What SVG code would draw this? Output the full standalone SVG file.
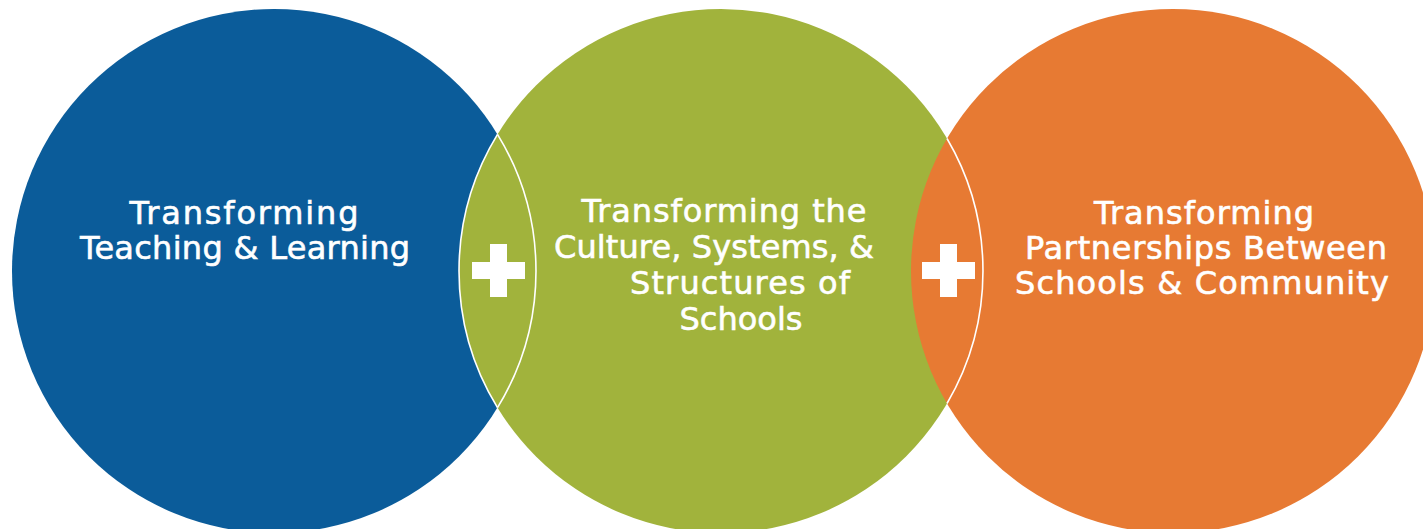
<svg xmlns="http://www.w3.org/2000/svg" width="1423" height="529" viewBox="0 0 1423 529">
<style>
.lbl{font-family:"DejaVu Sans","Liberation Sans",sans-serif;font-size:32px;fill:#ffffff;stroke:#ffffff;stroke-width:0.6;text-anchor:middle}
.arc{fill:none;stroke:#ffffff;stroke-width:1.6}
.plus{fill:#ffffff}
</style>
<rect width="1423" height="529" fill="#ffffff"/>
<g id="node-teaching">
<circle cx="274" cy="271" r="262" fill="#0b5c9a"/>
</g>
<g id="node-culture">
<circle cx="721" cy="271" r="262" fill="#a1b33c"/>
</g>
<g id="node-partnerships">
<circle cx="1173" cy="271" r="262" fill="#e77a33"/>
</g>
<g id="connectors">
<path class="arc" d="M497.5,134.3 A262,262 0 0 0 497.5,407.7"/>
<path class="arc" d="M497.5,134.3 A262,262 0 0 1 497.5,407.7"/>
<path class="arc" d="M947,138.5 A262,262 0 0 1 947,403.5"/>
<path class="plus" d="M490,244 h17 v18 h18 v17 h-18 v18 h-17 v-18 h-18 v-17 h18 z"/>
<path class="plus" d="M940,244 h17 v18 h18 v17 h-18 v18 h-17 v-18 h-18 v-17 h18 z"/>
</g>
<g id="labels">
<text class="lbl" x="244" y="224" textLength="229" lengthAdjust="spacing">Transforming</text>
<text class="lbl" x="245" y="259" textLength="330" lengthAdjust="spacing">Teaching &amp; Learning</text>
<text class="lbl" x="724" y="222" textLength="285" lengthAdjust="spacing">Transforming the</text>
<text class="lbl" x="714" y="258" textLength="320" lengthAdjust="spacing">Culture, Systems, &amp;</text>
<text class="lbl" x="740" y="294" textLength="220" lengthAdjust="spacing">Structures of</text>
<text class="lbl" x="741" y="330">Schools</text>
<text class="lbl" x="1204" y="224" textLength="220" lengthAdjust="spacing">Transforming</text>
<text class="lbl" x="1206" y="259" textLength="362" lengthAdjust="spacing">Partnerships Between</text>
<text class="lbl" x="1202" y="294" textLength="374" lengthAdjust="spacing">Schools &amp; Community</text>
</g>
</svg>
